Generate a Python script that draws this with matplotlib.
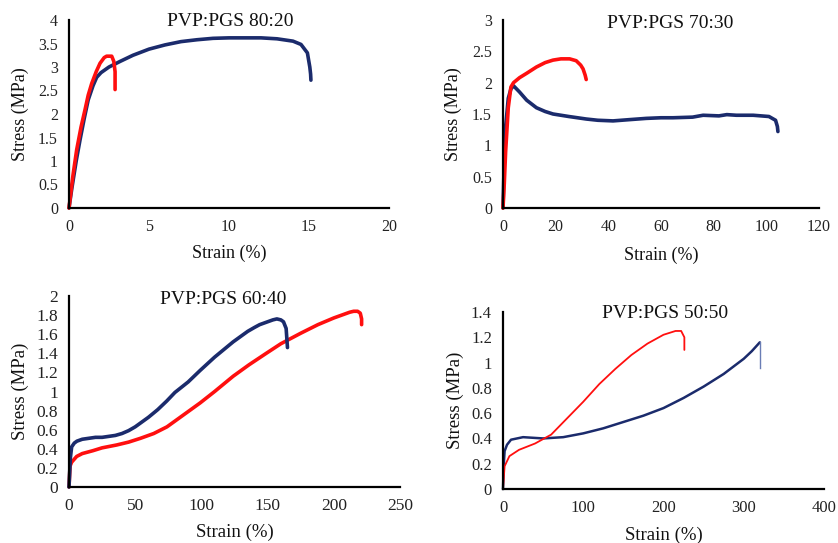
import matplotlib
matplotlib.use("Agg")
import matplotlib.pyplot as plt

plt.rcParams['font.family'] = ['Liberation Serif', 'DejaVu Serif']

BLUE = '#1b2b6c'
RED = '#ff0f0f'

# ---- Panel 1: PVP:PGS 80:20 ----
p1_blue_x = [0, 0.17, 0.45, 0.69, 0.95, 1.2, 1.5, 1.73, 2.0, 2.5, 3.2, 4, 5, 6, 7, 8, 9, 10, 11, 12, 13, 14, 14.5, 14.9, 15.05, 15.1, 15.12]
p1_blue_y = [0, 0.4, 1.0, 1.45, 1.9, 2.3, 2.6, 2.78, 2.88, 3.0, 3.12, 3.25, 3.38, 3.47, 3.54, 3.58, 3.61, 3.62, 3.62, 3.62, 3.6, 3.55, 3.48, 3.3, 3.0, 2.85, 2.72]
p1_red_x = [0, 0.25, 0.48, 0.75, 1.0, 1.2, 1.42, 1.7, 1.94, 2.2, 2.35, 2.67, 2.8, 2.88, 2.88]
p1_red_y = [0, 0.7, 1.24, 1.72, 2.09, 2.4, 2.65, 2.9, 3.08, 3.2, 3.23, 3.23, 3.12, 2.9, 2.52]

# ---- Panel 2: PVP:PGS 70:30 ----
p2_red_x = [0, 0.5, 1, 2, 3, 4, 6.3, 9, 12.7, 16, 19, 22, 25.3, 27.8, 29.5, 30.4, 31.2, 31.6]
p2_red_y = [0, 0.4, 0.9, 1.6, 1.93, 2.0, 2.08, 2.15, 2.25, 2.32, 2.36, 2.38, 2.38, 2.35, 2.28, 2.22, 2.12, 2.05]
p2_blue_x = [0, 0.5, 1, 2, 3, 4, 6.3, 9, 12.7, 16, 19, 25, 31.6, 36, 41.8, 48, 54.4, 60, 64.6, 72, 76, 82, 85, 88.6, 95, 101, 103.5, 104.2, 104.4]
p2_blue_y = [0, 0.8, 1.3, 1.75, 1.9, 1.95, 1.85, 1.72, 1.6, 1.54, 1.5, 1.46, 1.42, 1.4, 1.39, 1.41, 1.43, 1.44, 1.44, 1.45, 1.48, 1.47, 1.49, 1.48, 1.48, 1.46, 1.4, 1.3, 1.22]

# ---- Panel 3: PVP:PGS 60:40 ----
p3_blue_x = [0, 1, 2, 4, 6, 10, 15, 20, 25, 30, 35, 40, 45, 50, 55, 60, 67, 73.8, 80, 90, 99, 110, 117, 124, 130, 135, 140, 144, 150, 154, 157, 160, 162, 164, 164.5, 165]
p3_blue_y = [0, 0.3, 0.42, 0.46, 0.48, 0.5, 0.51, 0.52, 0.52, 0.53, 0.54, 0.56, 0.59, 0.63, 0.68, 0.73, 0.81, 0.9, 0.99, 1.1, 1.22, 1.36, 1.44, 1.52, 1.58, 1.63, 1.67, 1.7, 1.73, 1.75, 1.76, 1.75, 1.73, 1.66, 1.56, 1.46]
p3_red_x = [0, 0.8, 2, 5.8, 10, 18, 25, 36, 45, 54, 64, 74, 85, 99, 110, 124, 136, 149, 160, 175, 188, 200, 208, 212, 215, 218, 220, 221, 221]
p3_red_y = [0, 0.22, 0.26, 0.32, 0.35, 0.38, 0.41, 0.44, 0.47, 0.51, 0.56, 0.63, 0.74, 0.88, 1.0, 1.16, 1.28, 1.4, 1.5, 1.61, 1.7, 1.77, 1.81, 1.83, 1.84, 1.84, 1.82, 1.76, 1.7]

# ---- Panel 4: PVP:PGS 50:50 ----
p4_blue_x = [0, 1, 2, 5, 10, 25, 50, 75, 100, 125, 150, 175, 200, 225, 250, 275, 300, 310, 320]
p4_blue_y = [0, 0.2, 0.3, 0.35, 0.39, 0.41, 0.40, 0.41, 0.44, 0.48, 0.53, 0.58, 0.64, 0.72, 0.81, 0.91, 1.03, 1.09, 1.16]
p4_drop_x = [320, 320]
p4_drop_y = [1.16, 0.96]
p4_red_x = [0, 2, 8, 20, 40, 60, 80, 100, 120, 140, 160, 180, 200, 215, 222, 226, 226]
p4_red_y = [0, 0.18, 0.26, 0.31, 0.36, 0.43, 0.56, 0.69, 0.83, 0.95, 1.06, 1.15, 1.22, 1.25, 1.25, 1.2, 1.1]

titles = ['PVP:PGS 80:20', 'PVP:PGS 70:30', 'PVP:PGS 60:40', 'PVP:PGS 50:50']
xlims = [(0, 20), (0, 120), (0, 250), (0, 400)]
ylims = [(0, 4), (0, 3), (0, 2), (0, 1.4)]
xticks = [[0, 5, 10, 15, 20], [0, 20, 40, 60, 80, 100, 120], [0, 50, 100, 150, 200, 250], [0, 100, 200, 300, 400]]
yticks = [[0, 0.5, 1, 1.5, 2, 2.5, 3, 3.5, 4], [0, 0.5, 1, 1.5, 2, 2.5, 3],
          [0, 0.2, 0.4, 0.6, 0.8, 1, 1.2, 1.4, 1.6, 1.8, 2], [0, 0.2, 0.4, 0.6, 0.8, 1, 1.2, 1.4]]

W, H = 838, 543
fig = plt.figure(figsize=(W / 100, H / 100), dpi=100)

edges = [(69, 389, 20, 208), (503, 819, 20, 208), (69, 400, 296, 487), (503, 824, 312, 489)]

def rect(l, r, t, b):
    return [l / W, 1 - b / H, (r - l) / W, (b - t) / H]

title_pos = [(230, 22), (670, 23), (223, 300), (665, 313)]
ylab_x = [20, 453, 20, 455]
xlab_y = [253, 255, 532, 535]
tick_fs = [11.5, 11.5, 12.5, 12]
lab_fs = [13, 13, 13.5, 13.5]
title_fs = [14, 14, 14, 14]

axes = []
for i in range(4):
    l, r, t, b = edges[i]
    ax = fig.add_axes(rect(l, r, t, b))
    axes.append(ax)
    ax.set_xlim(*xlims[i])
    ax.set_ylim(*ylims[i])
    ax.set_xticks(xticks[i])
    ax.set_yticks(yticks[i])
    ax.set_xticklabels([f'{v:g}' for v in xticks[i]])
    ax.set_yticklabels([f'{v:g}' for v in yticks[i]])
    for s in ['top', 'right']:
        ax.spines[s].set_visible(False)
    for s in ['left', 'bottom']:
        ax.spines[s].set_linewidth(1.6)
        ax.spines[s].set_color('black')
    ax.tick_params(length=0, labelsize=tick_fs[i], pad=8, colors='#222222')
    tx, ty = title_pos[i]
    fig.text(tx / W, 1 - ty / H, titles[i], ha='center', va='center', fontsize=title_fs[i], color='#111111')
    fig.text(ylab_x[i] / W, 1 - ((t + b) / 2) / H, 'Stress (MPa)', rotation=90, ha='center', va='center',
             fontsize=lab_fs[i], color='#111111')
    fig.text(((l + r) / 2) / W, 1 - xlab_y[i] / H, 'Strain (%)', ha='center', va='center',
             fontsize=lab_fs[i], color='#111111')

a1, a2, a3, a4 = axes
a1.plot(p1_blue_x, p1_blue_y, color=BLUE, lw=2.6, solid_capstyle='round', clip_on=False)
a1.plot(p1_red_x, p1_red_y, color=RED, lw=2.6, solid_capstyle='round', clip_on=False)

a2.plot(p2_blue_x, p2_blue_y, color=BLUE, lw=2.6, solid_capstyle='round', clip_on=False)
a2.plot(p2_red_x, p2_red_y, color=RED, lw=2.6, solid_capstyle='round', clip_on=False)

a3.plot(p3_red_x, p3_red_y, color=RED, lw=2.6, solid_capstyle='round', clip_on=False)
a3.plot(p3_blue_x, p3_blue_y, color=BLUE, lw=2.6, solid_capstyle='round', clip_on=False)

a4.plot(p4_blue_x, p4_blue_y, color=BLUE, lw=1.8, solid_capstyle='round', clip_on=False)
a4.plot(p4_drop_x, p4_drop_y, color='#6a7db5', lw=1.0, clip_on=False)
a4.plot(p4_red_x, p4_red_y, color=RED, lw=1.3, solid_capstyle='round', clip_on=False)

fig.savefig('out.png', dpi=100, facecolor='white')
